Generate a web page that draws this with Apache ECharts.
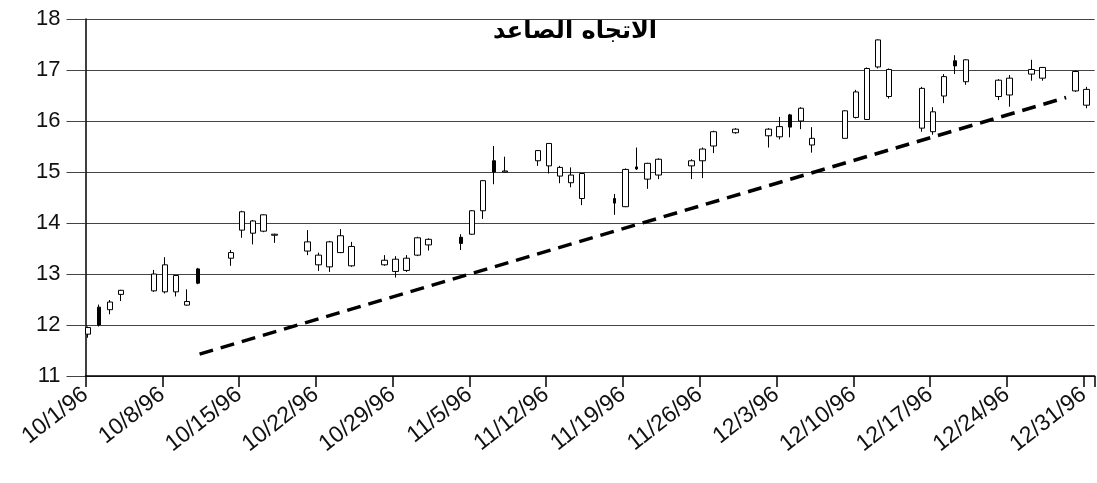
<!DOCTYPE html>
<html>
<head>
<meta charset="utf-8">
<script src="https://cdn.jsdelivr.net/npm/echarts@6/dist/echarts.min.js"></script>
<style>
html,body{margin:0;padding:0;background:#fff}
#chart{width:1097px;height:483px}
</style>
</head>
<body>
<div id="chart"></div>
<script>
// trading days (m/d/yy)
var dates = ['10/1/96','10/2/96','10/3/96','10/4/96','10/7/96','10/8/96','10/9/96','10/10/96','10/11/96',
    '10/14/96','10/15/96','10/16/96','10/17/96','10/18/96','10/21/96','10/22/96','10/23/96','10/24/96','10/25/96',
    '10/28/96','10/29/96','10/30/96','10/31/96','11/1/96','11/4/96','11/5/96','11/6/96','11/7/96','11/8/96',
    '11/11/96','11/12/96','11/13/96','11/14/96','11/15/96','11/18/96','11/19/96','11/20/96','11/21/96','11/22/96',
    '11/25/96','11/26/96','11/27/96','11/29/96','12/2/96','12/3/96','12/4/96','12/5/96','12/6/96',
    '12/9/96','12/10/96','12/11/96','12/12/96','12/13/96','12/16/96','12/17/96','12/18/96','12/19/96','12/20/96',
    '12/23/96','12/24/96','12/26/96','12/27/96','12/30/96','12/31/96'];
var opens  = [11.82,12.35,12.30,12.60,12.67,12.65,12.65,12.39,13.10,
    13.31,13.86,13.80,13.84,13.76,13.45,13.18,13.14,13.42,13.16,
    13.18,13.05,13.07,13.37,13.57,13.72,13.78,14.24,15.22,15.00,
    15.22,15.12,14.92,14.79,14.48,14.48,14.32,15.10,14.86,14.94,
    15.12,15.22,15.51,15.77,15.71,15.69,16.12,16.00,15.53,
    15.66,16.07,16.03,17.06,16.48,15.86,15.79,16.49,17.18,16.77,
    16.48,16.51,16.92,16.84,16.59,16.31];
var closes = [11.95,12.00,12.45,12.68,13.00,13.18,12.97,12.46,12.82,
    13.42,14.22,14.04,14.16,13.78,13.63,13.37,13.63,13.75,13.54,
    13.27,13.29,13.31,13.71,13.68,13.60,14.24,14.83,15.00,15.02,
    15.42,15.56,15.09,14.94,14.97,14.39,15.05,15.06,15.17,15.25,
    15.22,15.45,15.79,15.84,15.84,15.89,15.88,16.25,15.66,
    16.20,16.57,17.03,17.59,17.01,16.64,16.18,16.87,17.08,17.20,
    16.80,16.84,17.01,17.05,16.97,16.62];
var lows   = [11.75,11.97,12.21,12.47,12.65,12.62,12.56,12.38,12.80,
    13.16,13.71,13.58,13.82,13.61,13.37,13.06,13.04,13.41,13.14,
    13.16,12.93,13.04,13.35,13.46,13.47,13.77,14.08,14.76,14.99,
    15.12,14.97,14.78,14.70,14.35,14.16,14.31,15.04,14.67,14.86,
    14.86,14.88,15.37,15.75,15.48,15.64,15.68,15.84,15.38,
    15.66,16.05,16.02,17.03,16.44,15.79,15.73,16.35,16.92,16.71,
    16.41,16.28,16.79,16.79,16.57,16.25];
var highs  = [11.97,12.40,12.49,12.69,13.08,13.33,12.98,12.70,13.12,
    13.47,14.24,14.06,14.17,13.79,13.86,13.42,13.65,13.88,13.63,
    13.37,13.35,13.37,13.73,13.70,13.78,14.25,14.84,15.51,15.30,
    15.43,15.56,15.12,15.09,14.98,14.57,15.07,15.48,15.18,15.27,
    15.25,15.48,15.81,15.86,15.86,16.08,16.14,16.27,15.88,
    16.21,16.61,17.05,17.60,17.03,16.67,16.27,16.92,17.29,17.21,
    16.82,16.90,17.20,17.06,16.99,16.67];

// dashed support line, x in days after 10/1/96
var trendX = [10.4, 89.4];
var trendY = [11.43, 16.46];

var yTicks = [11, 18, 1]; // min, max, step

var base = Date.UTC(1996, 9, 1);
function dayOf(s){
    var p = s.split('/');
    return Math.round((Date.UTC(1900 + Number(p[2]), Number(p[0]) - 1, Number(p[1])) - base) / 864e5);
}
function labelOf(d){
    var t = new Date(base + d * 864e5);
    return (t.getUTCMonth() + 1) + '/' + t.getUTCDate() + '/' + String(t.getUTCFullYear()).slice(2);
}

// bars sit a little right of the day tick in the original
var shift = 0.25;
var upBars = [], downBars = [];
for (var i = 0; i < dates.length; i++) {
    var row = [dayOf(dates[i]) + shift, opens[i], closes[i], lows[i], highs[i]];
    if (closes[i] >= opens[i]) upBars.push(row); else downBars.push(row);
}
var trend = [];
for (var j = 0; j < trendX.length; j++) {
    trend.push([trendX[j], trendY[j]]);
}

var chart = echarts.init(document.getElementById('chart'));
chart.setOption({
    animation: false,
    title: {
        text: 'الاتجاه الصاعد',
        left: 570,
        top: 15,
        textAlign: 'center',
        textStyle: { fontFamily: 'DejaVu Sans', fontWeight: 'bold', fontSize: 24, color: '#000' }
    },
    grid: { left: 85.5, right: -1, top: 19, bottom: 107 },
    xAxis: {
        type: 'value',
        min: 0,
        max: 92,
        interval: 7,
        splitLine: { show: false },
        axisLine: { lineStyle: { color: '#000', width: 1.5 } },
        axisTick: { length: 11, lineStyle: { color: '#000', width: 1.5 } },
        axisLabel: {
            rotate: 38,
            margin: 16,
            fontSize: 23,
            fontFamily: 'Liberation Sans',
            color: '#111',
            formatter: function(v){ return v % 7 === 0 ? labelOf(v) : ''; }
        }
    },
    yAxis: {
        type: 'value',
        min: yTicks[0],
        max: yTicks[1],
        interval: yTicks[2],
        axisLine: { show: true, lineStyle: { color: '#000', width: 1.5 } },
        axisTick: { show: true, length: 19, lineStyle: { color: '#444' } },
        axisLabel: { fontSize: 22, fontFamily: 'Liberation Sans', color: '#111', margin: 25 },
        splitLine: { lineStyle: { color: '#444', width: 1 } }
    },
    series: [
        {
            type: 'candlestick',
            data: upBars,
            encode: { x: 0, y: [1, 2, 3, 4] },
            barWidth: 6,
            itemStyle: { color: '#fff', borderColor: '#000', borderWidth: 1 }
        },
        {
            type: 'candlestick',
            data: downBars,
            encode: { x: 0, y: [1, 2, 3, 4] },
            barWidth: 3,
            itemStyle: { color0: '#000', borderColor0: '#000', borderWidth: 1 }
        },
        {
            type: 'line',
            data: trend,
            symbol: 'none',
            lineStyle: { color: '#000', width: 3.5, type: [14, 8] },
            z: 3
        }
    ]
});
</script>
</body>
</html>
